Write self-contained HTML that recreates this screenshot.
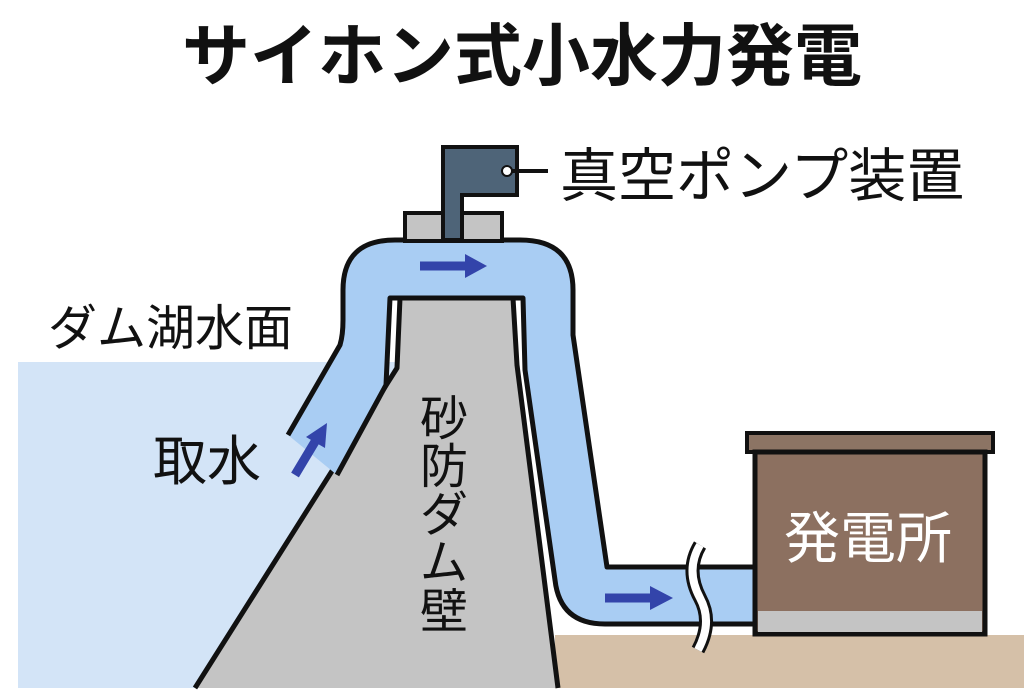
<!DOCTYPE html>
<html><head><meta charset="utf-8"><style>
body{margin:0;background:#fff;width:1024px;height:690px;overflow:hidden}
svg{display:block}
text{font-family:"Liberation Sans","Noto Sans CJK JP",sans-serif}
</style></head><body>
<svg width="1024" height="690" viewBox="0 0 1024 690">
<rect x="18" y="362" width="400" height="326" fill="#d3e4f7"/>
<rect x="555" y="635" width="469" height="53" fill="#d5c0a8"/>
<!-- dam -->
<polygon points="400,298 513,298 517,365 558,688 195,688 397,368" fill="#c4c4c4"/>
<polyline points="195,688 397,368 400,298" fill="none" stroke="#111" stroke-width="5" stroke-linejoin="round"/>
<polyline points="513,298 517,365 558,688" fill="none" stroke="#111" stroke-width="5" stroke-linejoin="round"/>
<!-- pipe fill -->
<path d="M288,435 L340,345 Q343,335 343,320 L343,290 Q343,240 395,240 L520,240 Q573,240 573,290 L573,335 L607,567 L755,567 L755,624 L605,624 Q560,624 555,580 L525,370 L523,298 L390,298 L386,385 L337,475 Z" fill="#a9cdf3"/>
<!-- pipe outer wall -->
<path d="M288,435 L340,345 Q343,335 343,320 L343,290 Q343,240 395,240 L520,240 Q573,240 573,290 L573,335 L607,567 L755,567" fill="none" stroke="#111" stroke-width="5" stroke-linejoin="round"/>
<!-- pipe inner wall -->
<path d="M337,475 L386,385 L390,298 L523,298 L525,370 L555,580 Q560,624 605,624 L755,624" fill="none" stroke="#111" stroke-width="5" stroke-linejoin="round"/>
<!-- pump -->
<rect x="405" y="213" width="97" height="28" fill="#c4c4c4" stroke="#111" stroke-width="4"/>
<path d="M443,147 L517,147 L517,195 L462,195 L462,240 L443,240 Z" fill="#4e6478" stroke="#111" stroke-width="4"/>
<line x1="507" y1="171" x2="548" y2="171" stroke="#111" stroke-width="4"/>
<circle cx="507" cy="171" r="5" fill="#fff" stroke="#111" stroke-width="2"/>
<!-- arrows -->
<g fill="#3344aa" stroke="#3344aa">
<line x1="420" y1="266" x2="468" y2="266" stroke-width="9"/><polygon points="465,254 487,266 465,278" stroke="none"/>
<line x1="605" y1="598" x2="652" y2="598" stroke-width="9"/><polygon points="650,586 673,598 650,610" stroke="none"/>
<line x1="295" y1="475" x2="316" y2="440" stroke-width="9"/><polygon points="306,437 327,423 325,448" stroke="none"/>
</g>
<!-- break -->
<path d="M700,545 Q685,570 700,598 Q713,622 698,650" fill="none" stroke="#111" stroke-width="14"/>
<path d="M700,545 Q685,570 700,598 Q713,622 698,650" fill="none" stroke="#fff" stroke-width="8"/>
<!-- power station -->
<rect x="747" y="433" width="246" height="19" fill="#8c7464" stroke="#111" stroke-width="4"/>
<rect x="755" y="452" width="230" height="182" fill="#8c7060" stroke="#111" stroke-width="5"/>
<rect x="758" y="611" width="224" height="21" fill="#c4c4c4"/>
<text x="868" y="558" font-size="56" fill="#fff" text-anchor="middle">発電所</text>
<!-- labels -->
<text x="522" y="80" font-size="68" font-weight="bold" fill="#111" text-anchor="middle">サイホン式小水力発電</text>
<text x="560" y="196" font-size="58" fill="#111">真空ポンプ装置</text>
<text x="48" y="345" font-size="49" fill="#111">ダム湖水面</text>
<text x="153" y="480" font-size="54" fill="#111">取水</text>
<g font-size="48" fill="#111" text-anchor="middle">
<text x="444" y="435">砂</text><text x="444" y="483">防</text><text x="444" y="531">ダ</text><text x="444" y="579">ム</text><text x="444" y="628">壁</text>
</g>
</svg>
</body></html>
